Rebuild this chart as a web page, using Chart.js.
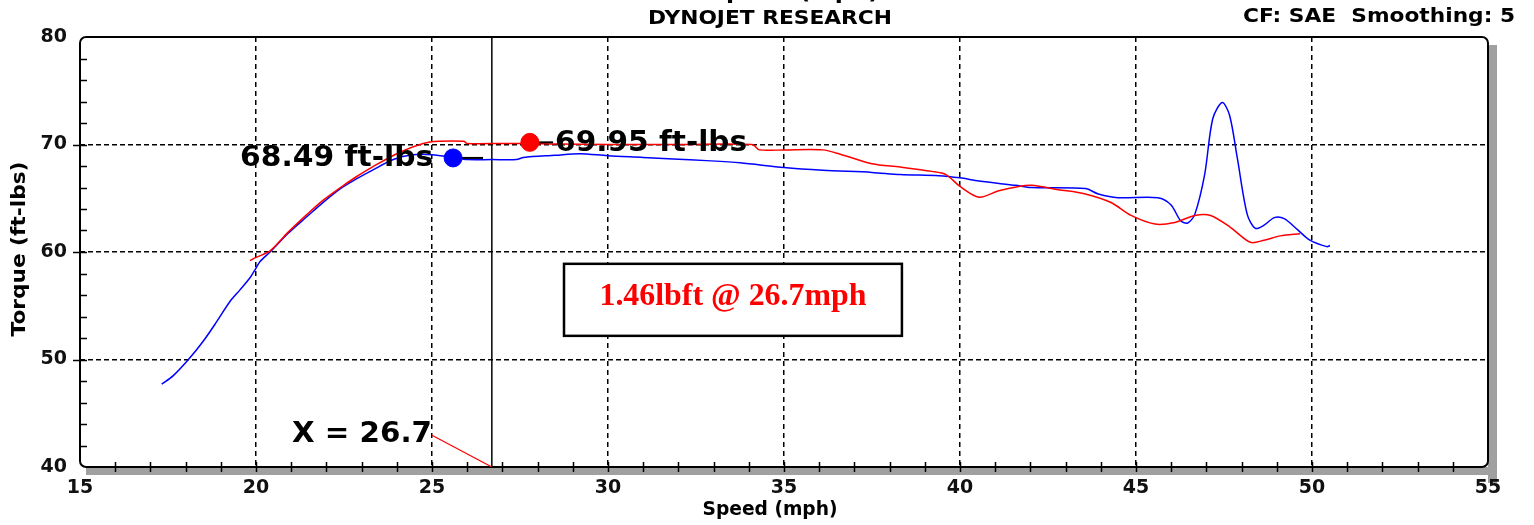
<!DOCTYPE html>
<html><head><meta charset="utf-8">
<script src="https://cdn.jsdelivr.net/npm/chart.js@4.4.1/dist/chart.umd.min.js"></script>
<style>html,body{margin:0;padding:0;background:#fff;overflow:hidden}#wrap{width:1534px;height:525px;position:relative}</style>
</head><body><div id="wrap"><canvas id="c" width="1534" height="525"></canvas></div>
<script>
// ---- data ----
const speedTicks = [15,20,25,30,35,40,45,50,55];
const torqueTicks = [40,50,60,70,80];
const blueSpeed  = [17.32,17.65,18.08,18.5,18.88,19.26,19.55,19.83,20.0,20.11,20.4,20.9,21.45,21.9,22.4,22.85,23.3,23.9,24.45,25.0,25.6,26.0,26.7,27.4,27.6,28.5,29.2,30.0,31.0,31.85,32.8,33.75,35.0,36.1,37.5,38.3,39.4,40.0,40.54,41.58,42.03,43.56,43.93,44.49,45.62,45.99,46.27,46.47,46.67,46.95,47.18,47.45,47.66,47.88,48.16,48.39,48.64,48.93,49.21,49.58,49.94,50.42,50.51];
const blueTorque = [47.7,48.5,50.0,51.7,53.5,55.4,56.5,57.6,58.5,59.1,60.0,61.7,63.3,64.6,65.9,66.8,67.6,68.6,69.05,69.05,68.8,68.6,68.6,68.6,68.8,69.0,69.15,68.95,68.8,68.65,68.5,68.3,67.85,67.6,67.4,67.2,67.1,66.9,66.6,66.2,66.0,65.9,65.4,65.05,65.05,64.4,62.9,62.7,63.5,67.2,72.4,73.9,72.7,68.7,63.5,62.2,62.5,63.2,63.1,62.1,61.1,60.5,60.6];
const redSpeed  = [19.83,20.0,20.4,20.9,21.45,21.9,22.4,22.85,23.3,24.1,24.75,25.2,25.9,26.0,27.0,27.8,28.5,30.0,32.0,34.1,34.3,35.0,36.1,36.6,37.5,38.3,39.2,39.6,40.0,40.54,41.1,41.67,42.03,42.8,43.56,44.29,44.86,45.54,46.1,46.67,47.12,47.68,48.25,48.64,49.1,49.66];
const redTorque = [59.2,59.5,60.1,61.8,63.5,64.8,66.0,67.0,67.9,69.3,70.1,70.3,70.3,70.1,70.1,70.1,70.05,70.0,70.0,70.0,69.5,69.5,69.5,69.1,68.2,67.9,67.5,67.2,66.1,65.1,65.7,66.1,66.2,65.8,65.4,64.6,63.4,62.6,62.75,63.4,63.4,62.3,60.9,61.1,61.5,61.7];
const cursorSpeed = [26.7, 26.7];
const cursorTorque = [40, 80];
const markerSpeed = [25.6, 27.78];
const markerTorque = [68.75, 70.2];
const markerLabels = ['68.49 ft-lbs', '69.95 ft-lbs'];
const leaderEndSpeed = [26.45, 28.44];
const xLeadSpeed = [25.0, 26.7];
const xLeadTorque = [42.96, 40];
const cursorLabel = 'X = 26.7';
const deltaText = '1.46lbft @ 26.7mph';
const deltaBoxSpeed = [28.75, 38.35];
const deltaBoxTorque = [58.9, 52.2];
const titleText = 'DYNOJET RESEARCH';
const infoText = 'CF: SAE  Smoothing: 5';
const xTitle = 'Speed (mph)';
const yTitle = 'Torque (ft-lbs)';

const pts = (xs, ys) => xs.map((x, i) => ({x, y: ys[i]}));

function fitText(ctx, text, x, y, align, font, width, color, rot) {
  ctx.save();
  ctx.font = font;
  ctx.fillStyle = color || '#000';
  ctx.textBaseline = 'middle';
  ctx.textAlign = align;
  const w = ctx.measureText(text).width;
  ctx.translate(x, y);
  if (rot) ctx.rotate(rot);
  ctx.scale(width / w, 1);
  ctx.fillText(text, 0, 0);
  ctx.restore();
}

const dynoPlugin = {
  id: 'dyno',
  beforeDraw(chart) {
    const {ctx, chartArea: a} = chart;
    ctx.save();
    ctx.fillStyle = '#fff';
    ctx.fillRect(0, 0, chart.width, chart.height);
    ctx.fillStyle = '#a0a0a0';
    ctx.fillRect(a.left + 6, a.bottom, a.right - a.left + 3, 8);
    ctx.fillRect(a.right, a.top + 8, 9, a.bottom - a.top + 8);
    ctx.restore();
  },
  beforeDatasetsDraw(chart) {
    const {ctx, chartArea: a, scales} = chart;
    const xs = scales.x, ys = scales.y;
    ctx.save();
    ctx.strokeStyle = '#000';
    ctx.lineWidth = 2;
    ctx.beginPath();
    ctx.roundRect(a.left, a.top, a.right - a.left, a.bottom - a.top, 6);
    ctx.stroke();
    ctx.lineWidth = 1.5;
    ctx.beginPath();
    for (let v = 42; v < 80; v += 2) {
      const y = Math.round(ys.getPixelForValue(v)) + 0.5;
      const major = v % 10 === 0;
      ctx.moveTo(a.left - (major ? 7 : 0), y);
      ctx.lineTo(a.left + 7, y);
    }
    for (let v = 16; v < 55; v += 1) {
      const x = Math.round(xs.getPixelForValue(v)) + 0.5;
      ctx.moveTo(x, a.bottom - 5);
      ctx.lineTo(x, a.bottom + 5);
    }
    ctx.stroke();
    ctx.restore();
  },
  afterDatasetsDraw(chart) {
    const {ctx, scales} = chart;
    const xs = scales.x, ys = scales.y;
    const bx = xs.getPixelForValue(markerSpeed[0]), by = ys.getPixelForValue(markerTorque[0]);
    const rx = xs.getPixelForValue(leaderEndSpeed[1]), ry = ys.getPixelForValue(markerTorque[1]);
    const f = 'bold 28px "DejaVu Sans"';
    fitText(ctx, markerLabels[0], bx - 20, by + 1, 'right', f, 193);
    fitText(ctx, markerLabels[1], rx + 2, ry + 1, 'left', f, 192);
    fitText(ctx, cursorLabel, xs.getPixelForValue(xLeadSpeed[0]), ys.getPixelForValue(xLeadTorque[0]), 'right', f, 140);
    // delta box
    const x0 = xs.getPixelForValue(deltaBoxSpeed[0]), x1 = xs.getPixelForValue(deltaBoxSpeed[1]);
    const y0 = ys.getPixelForValue(deltaBoxTorque[0]), y1 = ys.getPixelForValue(deltaBoxTorque[1]);
    ctx.save();
    ctx.fillStyle = '#fff';
    ctx.fillRect(x0, y0, x1 - x0, y1 - y0);
    ctx.strokeStyle = '#000';
    ctx.lineWidth = 2.5;
    ctx.strokeRect(x0, y0, x1 - x0, y1 - y0);
    ctx.restore();
    fitText(ctx, deltaText, (x0 + x1) / 2, (y0 + y1) / 2 - 3, 'center', 'bold 32px "Liberation Serif"', 267, '#ff0000');
  },
  afterDraw(chart) {
    const {ctx} = chart;
    const f = 'bold 19px "DejaVu Sans"';
    fitText(ctx, xTitle, 794, -6, 'center', f, 170);
    fitText(ctx, titleText, 770, 19, 'center', f, 244);
    fitText(ctx, infoText, 1515, 17, 'right', f, 272);
    fitText(ctx, xTitle, 770, 510, 'center', 'bold 20px "DejaVu Sans"', 135);
    fitText(ctx, yTitle, 20, 249, 'center', 'bold 20px "DejaVu Sans"', 175, '#000', -Math.PI / 2);
  }
};

const tickFont = {family: 'DejaVu Sans', weight: 'bold', size: 19};

new Chart(document.getElementById('c'), {
  type: 'scatter',
  data: {
    datasets: [
      {data: pts(markerSpeed.slice(0,1), markerTorque.slice(0,1)), pointRadius: 9, pointBackgroundColor: '#0000ff', pointBorderColor: '#0000ff', showLine: false, order: 0},
      {data: pts(markerSpeed.slice(1,2), markerTorque.slice(1,2)), pointRadius: 9, pointBackgroundColor: '#ff0000', pointBorderColor: '#ff0000', showLine: false, order: 0},
      {data: pts([markerSpeed[0], leaderEndSpeed[0]], [markerTorque[0], markerTorque[0]]), showLine: true, borderColor: '#000', borderWidth: 2, pointRadius: 0, order: 1},
      {data: pts([markerSpeed[1], leaderEndSpeed[1]], [markerTorque[1], markerTorque[1]]), showLine: true, borderColor: '#000', borderWidth: 2, pointRadius: 0, order: 1},
      {data: pts(redSpeed, redTorque), showLine: true, borderColor: '#ff0000', borderWidth: 1.5, pointRadius: 0, tension: 0.3, order: 2},
      {data: pts(blueSpeed, blueTorque), showLine: true, borderColor: '#0000ff', borderWidth: 1.5, pointRadius: 0, tension: 0.3, order: 3},
      {data: pts(xLeadSpeed, xLeadTorque), showLine: true, borderColor: '#ff0000', borderWidth: 1.2, pointRadius: 0, order: 4},
      {data: pts(cursorSpeed, cursorTorque), showLine: true, borderColor: '#000', borderWidth: 1.5, pointRadius: 0, order: 5}
    ]
  },
  options: {
    responsive: false,
    animation: false,
    devicePixelRatio: 1,
    layout: {padding: {top: 37, right: 46, left: 0, bottom: 0}},
    plugins: {legend: {display: false}, tooltip: {enabled: false}, title: {display: false}},
    scales: {
      x: {
        type: 'linear', min: 15, max: 55,
        afterBuildTicks: s => { s.ticks = speedTicks.map(v => ({value: v})); },
        afterFit: s => { s.height = 58; },
        grid: {color: c => (c.tick && (c.tick.value === 15 || c.tick.value === 55)) ? 'rgba(0,0,0,0)' : '#000', lineWidth: 1.5, drawTicks: false},
        border: {display: false, dash: [5, 4]},
        ticks: {font: tickFont, color: '#111', padding: 10, maxRotation: 0, autoSkip: false}
      },
      y: {
        type: 'linear', min: 40, max: 80,
        afterBuildTicks: s => { s.ticks = torqueTicks.map(v => ({value: v})); },
        afterFit: s => { s.width = 80; },
        grid: {color: c => (c.tick && (c.tick.value === 40 || c.tick.value === 80)) ? 'rgba(0,0,0,0)' : '#000', lineWidth: 1.5, drawTicks: false},
        border: {display: false, dash: [5, 3]},
        ticks: {font: tickFont, color: '#111', padding: 13, autoSkip: false}
      }
    }
  },
  plugins: [dynoPlugin]
});
</script>
</body></html>
